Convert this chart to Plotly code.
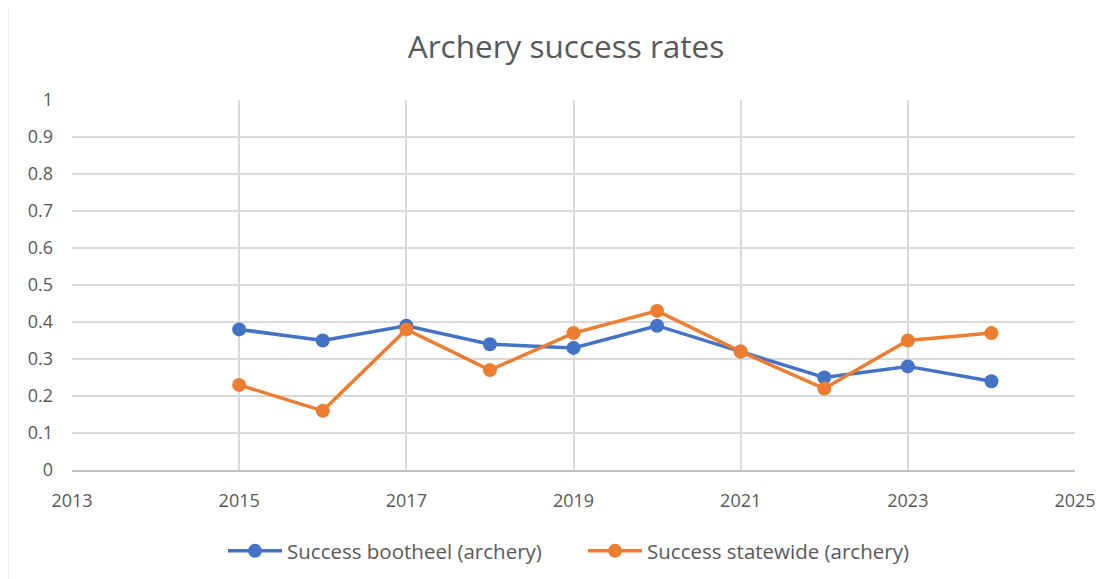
import plotly.graph_objects as go

years = [2015, 2016, 2017, 2018, 2019, 2020, 2021, 2022, 2023, 2024]
bootheel = [0.38, 0.35, 0.39, 0.34, 0.33, 0.39, 0.32, 0.25, 0.28, 0.24]
statewide = [0.23, 0.16, 0.38, 0.27, 0.37, 0.43, 0.32, 0.22, 0.35, 0.37]
x_ticks = [2013, 2015, 2017, 2019, 2021, 2023, 2025]
y_ticks = [0, 0.1, 0.2, 0.3, 0.4, 0.5, 0.6, 0.7, 0.8, 0.9, 1]
y_tick_labels = ["0", "0.1", "0.2", "0.3", "0.4", "0.5", "0.6", "0.7", "0.8", "0.9", "1"]

BLUE = "#4472C4"
ORANGE = "#ED7D31"
FONT = "Open Sans"
GRAY = "#595959"

# page body has an 8px margin: figure origin sits at (8, 8) in the window
W, H = 1112, 571
L, T = 64, 92
PW, PH = 1003, 370
R = W - L - PW
B = H - T - PH

fig = go.Figure()
fig.add_trace(go.Scatter(x=years, y=bootheel, mode="lines+markers",
                         name="Success bootheel (archery)",
                         line=dict(color=BLUE, width=3.5),
                         marker=dict(color=BLUE, size=14)))
fig.add_trace(go.Scatter(x=years, y=statewide, mode="lines+markers",
                         name="Success statewide (archery)",
                         line=dict(color=ORANGE, width=3.5),
                         marker=dict(color=ORANGE, size=14)))

fig.update_layout(
    width=W, height=H,
    paper_bgcolor="white", plot_bgcolor="white",
    margin=dict(l=L, r=R, t=T, b=B, autoexpand=False),
    title=dict(text="Archery success rates", x=(566 - 8) / W, xanchor="center",
               y=1 - (47 - 8) / H, yanchor="middle",
               font=dict(family=FONT, size=31.5, color=GRAY)),
    font=dict(family=FONT, size=18, color=GRAY),
    showlegend=True,
    legend=dict(orientation="h", x=(223 - 8 - L) / PW, xanchor="left",
                y=-(551 - 8 - T - PH) / PH, yanchor="middle",
                font=dict(family=FONT, size=20.5, color=GRAY), itemwidth=54,
                entrywidth=291, entrywidthmode="pixels",
                bgcolor="rgba(0,0,0,0)"),
    xaxis=dict(range=[2013, 2025], tickvals=x_ticks,
               ticktext=[str(v) for v in x_ticks],
               showgrid=True, gridcolor="#d9d9d9", gridwidth=1.5,
               zeroline=False, showline=True, linecolor="#bfbfbf", linewidth=1.5,
               ticks="", ticklabelstandoff=14, automargin=False,
               tickfont=dict(size=18, color=GRAY)),
    yaxis=dict(range=[0, 1], tickvals=y_ticks, ticktext=y_tick_labels,
               showgrid=True, gridcolor="#d9d9d9", gridwidth=1.5,
               zeroline=False, showline=False, ticks="",
               ticklabelstandoff=18, automargin=False,
               tickfont=dict(size=18, color=GRAY)),
)

fig.add_shape(type="line", xref="paper", yref="paper",
              x0=-(L - 0) / PW, x1=-(L - 0) / PW, y0=-B / PH, y1=1 + T / PH,
              line=dict(color="#d9d9d9", width=1))

fig.write_html("out.html")
